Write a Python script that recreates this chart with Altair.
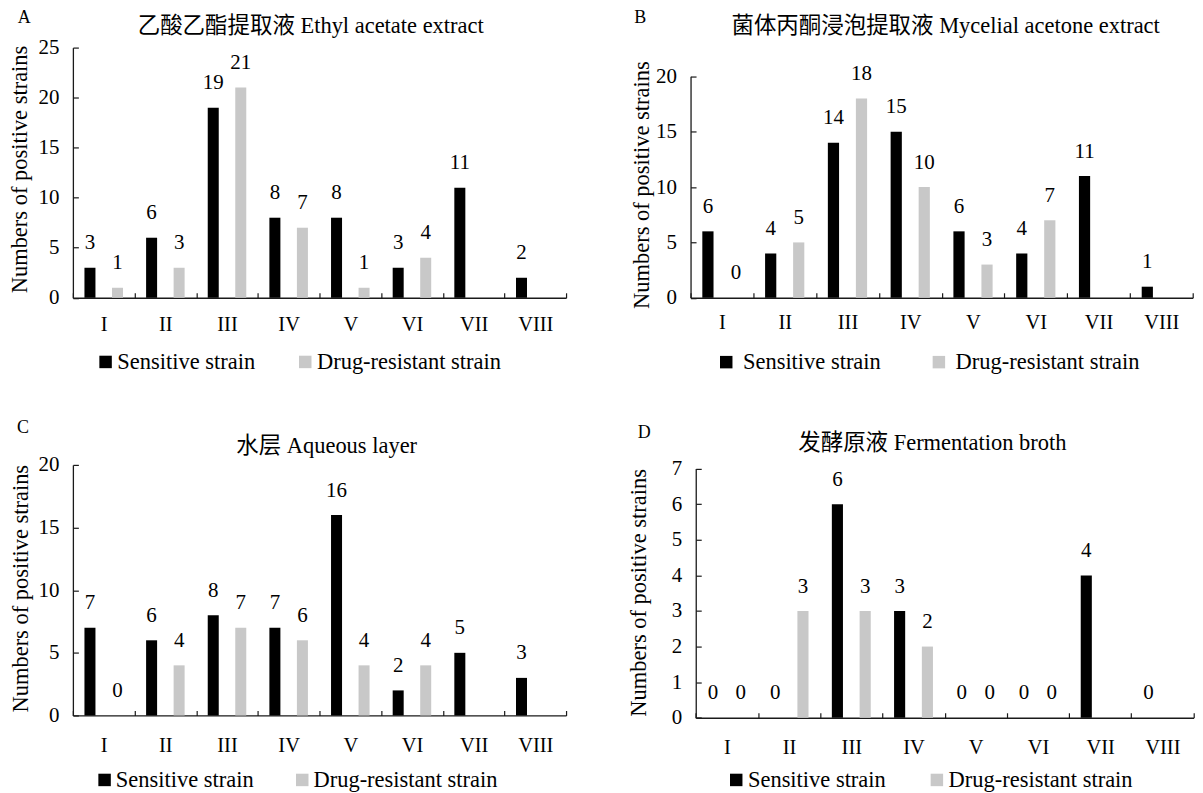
import altair as alt
import pandas as pd

FONT = "Liberation Serif, Noto Sans CJK SC"

categories = ["I", "II", "III", "IV", "V", "VI", "VII", "VIII"]
series = ["Sensitive strain", "Drug-resistant strain"]
colors = ["#000000", "#c8c8c8"]

a_sensitive = [3, 6, 19, 8, 8, 3, 11, 2]
a_resistant = [1, 3, 21, 7, 1, 4, None, None]
b_sensitive = [6, 4, 14, 15, 6, 4, 11, 1]
b_resistant = [0, 5, 18, 10, 3, 7, None, None]
c_sensitive = [7, 6, 8, 7, 16, 2, 5, 3]
c_resistant = [0, 4, 7, 6, 4, 4, None, None]
d_sensitive = [0, 0, 6, 3, 0, 0, 4, 0]
d_resistant = [0, 3, 3, 2, 0, 0, None, None]

titles = [
    "乙酸乙酯提取液 Ethyl acetate extract",
    "菌体丙酮浸泡提取液 Mycelial acetone extract",
    "水层 Aqueous layer",
    "发酵原液 Fermentation broth",
]
letters = ["A", "B", "C", "D"]
y_max = [25, 20, 20, 7]
y_ticks = [
    [0, 5, 10, 15, 20, 25],
    [0, 5, 10, 15, 20],
    [0, 5, 10, 15, 20],
    [0, 1, 2, 3, 4, 5, 6, 7],
]
y_title = "Numbers of positive strains"

# layout / styling per panel (pixels, relative to each panel's plot area)
layouts = [
    dict(w=494, h=250.6, xr=None, yr=[250.6, 0], yoff=0, tx=238.2, ty=-14.4, lx=-48.8, ly=-25,
         legx=21.5, legy=303.5, lo=0.5, cp=38, ytx=-46.5, yty=121.6, xlp=37.7),
    dict(w=503, h=250.6, xr=None, yr=[250.6, 28.8], yoff=0, tx=255.5, ty=-14.7, lx=-50.5, ly=-25,
         legx=24.5, legy=303.7, lo=5.5, cp=46, ytx=-42.5, yty=137.3, xlp=36.1),
    dict(w=494, h=251, xr=None, yr=[251, 0], yoff=0, tx=254.2, ty=-12.3, lx=-50, ly=-32.3,
         legx=20.5, legy=304.2, lo=0, cp=37, ytx=-45.2, yty=123.5, xlp=41.5),
    dict(w=504, h=253.3, xr=[5.2, 503.8], yr=[253.3, 3.7], yoff=-5.2, tx=242.2, ty=-14.7, lx=-46.5, ly=-27.3,
         legx=34.5, legy=304.2, lo=0.5, cp=39, ytx=-50.7, yty=127.7, xlp=41.1),
]

sens_all = [a_sensitive, b_sensitive, c_sensitive, d_sensitive]
res_all = [a_resistant, b_resistant, c_resistant, d_resistant]

AX = "#1a1a1a"


def make_panel(i):
    L = layouts[i]
    rows = []
    for c, s, r in zip(categories, sens_all[i], res_all[i]):
        rows.append({"cat": c, "series": series[0], "value": s})
        rows.append({"cat": c, "series": series[1], "value": r})
    df = pd.DataFrame(rows)

    xscale_kw = dict(paddingInner=0, paddingOuter=0)
    if L["xr"] is not None:
        xscale_kw["range"] = L["xr"]

    x_enc = alt.X(
        "cat:N",
        sort=categories,
        scale=alt.Scale(**xscale_kw),
        axis=alt.Axis(
            title=None,
            tickBand="extent",
            tickSize=alt.ExprRef(expr="-5"),
            tickColor=AX,
            tickWidth=1.2,
            domainColor=AX,
            domainWidth=1.3,
            labelAngle=0,
            labelFont=FONT,
            labelFontSize=20.5,
            labelColor="#000000",
            labelBaseline="alphabetic",
            labelPadding=L["xlp"],
            labelOverlap=False,
            grid=False,
        ),
    )
    xoff_enc = alt.XOffset(
        "series:N", sort=series, scale=alt.Scale(paddingInner=0.6, paddingOuter=0.42)
    )
    y_axis_kw = dict(
        values=y_ticks[i],
        tickCount=len(y_ticks[i]),
        title=y_title,
        titleFont=FONT,
        titleFontSize=22.5,
        titleFontWeight="normal",
        titleColor="#000000",
        titleAngle=270,
        titleBaseline="alphabetic",
        titleAlign="center",
        titleX=L["ytx"],
        titleY=L["yty"],
        tickSize=alt.ExprRef(expr="-5.5"),
        tickColor=AX,
        tickWidth=1.2,
        domainColor=AX,
        domainWidth=1.3,
        labelFont=FONT,
        labelFontSize=21,
        labelColor="#000000",
        labelPadding=19.5,
        labelOverlap=False,
        grid=False,
    )
    if L["yoff"]:
        y_axis_kw["offset"] = L["yoff"]
    y_enc = alt.Y(
        "value:Q",
        scale=alt.Scale(domain=[0, y_max[i]], range=L["yr"], nice=False, zero=True),
        axis=alt.Axis(**y_axis_kw),
    )

    bars = alt.Chart(df).mark_bar().encode(
        x=x_enc,
        xOffset=xoff_enc,
        y=y_enc,
        color=alt.Color(
            "series:N",
            sort=series,
            scale=alt.Scale(domain=series, range=colors),
            legend=alt.Legend(
                title=None,
                orient="none",
                legendX=L["legx"],
                legendY=L["legy"],
                direction="horizontal",
                symbolType="square",
                symbolSize=156,
                symbolStrokeWidth=0,
                symbolOpacity=1,
                labelFont=FONT,
                labelFontSize=22.5,
                labelColor="#000000",
                labelOffset=L["lo"],
                labelLimit=400,
                columnPadding=L["cp"],
                padding=0,
            ),
        ),
    )

    labels = (
        alt.Chart(df)
        .transform_filter("isValid(datum.value)")
        .mark_text(
            baseline="alphabetic",
            align="center",
            dy=-18.5,
            font=FONT,
            fontSize=21,
            color="#000000",
        )
        .encode(
            x=x_enc,
            xOffset=xoff_enc,
            y=y_enc,
            text=alt.Text("value:Q"),
        )
    )

    title_df = pd.DataFrame({"t": [titles[i]]})
    title_mark = (
        alt.Chart(title_df)
        .mark_text(baseline="alphabetic", align="center", font=FONT, fontSize=22.5, color="#000000")
        .encode(text="t:N", x=alt.value(L["tx"]), y=alt.value(L["ty"]))
    )
    letter_df = pd.DataFrame({"t": [letters[i]]})
    letter_mark = (
        alt.Chart(letter_df)
        .mark_text(baseline="alphabetic", align="center", font=FONT, fontSize=18, color="#000000")
        .encode(text="t:N", x=alt.value(L["lx"]), y=alt.value(L["ly"]))
    )

    return alt.layer(bars, labels, title_mark, letter_mark).properties(width=L["w"], height=L["h"])


panels = [make_panel(i) for i in range(4)]

chart = (
    alt.concat(
        *panels,
        columns=2,
        spacing={"row": 164, "column": 114.7},
        bounds="flush",
        align="all",
        padding=0,
    )
    .resolve_scale(x="independent", y="independent", xOffset="independent", color="independent")
    .resolve_legend(color="independent")
    .configure_view(stroke=None)
)

chart.save("out.html", embed_options={"renderer": "svg", "actions": False})
